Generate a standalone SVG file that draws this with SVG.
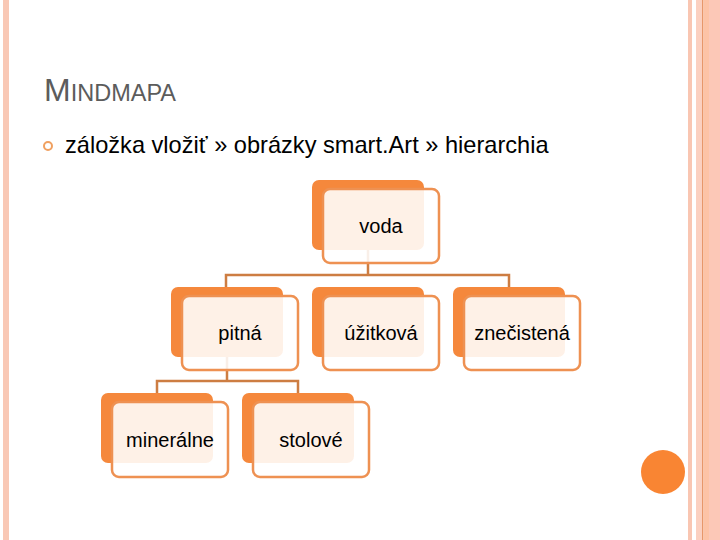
<svg xmlns="http://www.w3.org/2000/svg" width="720" height="540" viewBox="0 0 720 540">
<style>
.back{fill:#f5883c;}
.front{fill:#ffffff;fill-opacity:0.88;stroke:#ee9152;stroke-width:2.5;}
.lbl{font-family:"Liberation Sans",Arial,sans-serif;font-size:20px;fill:#000;text-anchor:middle;}
.conn{fill:none;stroke:#cd7d42;stroke-width:2.5;}
</style>
<rect width="720" height="540" fill="#ffffff"/>
<!-- decorations -->
<rect x="3" y="0" width="6" height="540" fill="#f9c8b5"/>
<rect x="688" y="0" width="4" height="540" fill="#f9c6b2"/>
<rect x="696" y="0" width="6" height="540" fill="#fbd0c0"/>
<rect x="702" y="0" width="1.5" height="540" fill="#e8976a"/>
<rect x="703.5" y="0" width="5.5" height="540" fill="#fdc3a6"/>
<rect x="709" y="0" width="11" height="540" fill="#fcc8b7"/>
<circle cx="663" cy="472" r="22" fill="#f98533"/>
<!-- title -->
<text x="44" y="101" font-family="'Liberation Sans',Arial,sans-serif" fill="#5c5c5c"><tspan font-size="32">M</tspan><tspan font-size="23.5">INDMAPA</tspan></text>
<circle cx="48" cy="146" r="4" fill="none" stroke="#f0a060" stroke-width="2"/>
<text x="65" y="153" font-family="'Liberation Sans',Arial,sans-serif" font-size="23.6" fill="#000">záložka vložiť » obrázky smart.Art » hierarchia</text>
<!-- connectors -->
<g id="connectors">
<path class="conn" d="M368 250 V275 M226 287 V275 H509 V287"/>
<path class="conn" d="M227 354 V381 M157 393 V381 H298 V393"/>
</g>
<!-- nodes -->
<g id="voda">
<rect class="back" x="312" y="180" width="112" height="70" rx="7"/>
<rect class="front" x="323" y="189" width="116" height="74" rx="7"/>
<text class="lbl" x="381" y="233">voda</text>
</g>
<g id="pitna">
<rect class="back" x="171" y="287" width="112" height="70" rx="7"/>
<rect class="front" x="182" y="296" width="116" height="74" rx="7"/>
<text class="lbl" x="240" y="340">pitná</text>
</g>
<g id="uzitkova">
<rect class="back" x="312" y="287" width="112" height="70" rx="7"/>
<rect class="front" x="323" y="296" width="116" height="74" rx="7"/>
<text class="lbl" x="381" y="340">úžitková</text>
</g>
<g id="znecistena">
<rect class="back" x="453" y="287" width="112" height="70" rx="7"/>
<rect class="front" x="464" y="296" width="116" height="74" rx="7"/>
<text class="lbl" x="522" y="340">znečistená</text>
</g>
<g id="mineralne">
<rect class="back" x="101" y="393" width="112" height="70" rx="7"/>
<rect class="front" x="112" y="402" width="116" height="75" rx="7"/>
<text class="lbl" x="170" y="447">minerálne</text>
</g>
<g id="stolove">
<rect class="back" x="242" y="393" width="112" height="70" rx="7"/>
<rect class="front" x="253" y="402" width="116" height="75" rx="7"/>
<text class="lbl" x="311" y="447">stolové</text>
</g>
</svg>
